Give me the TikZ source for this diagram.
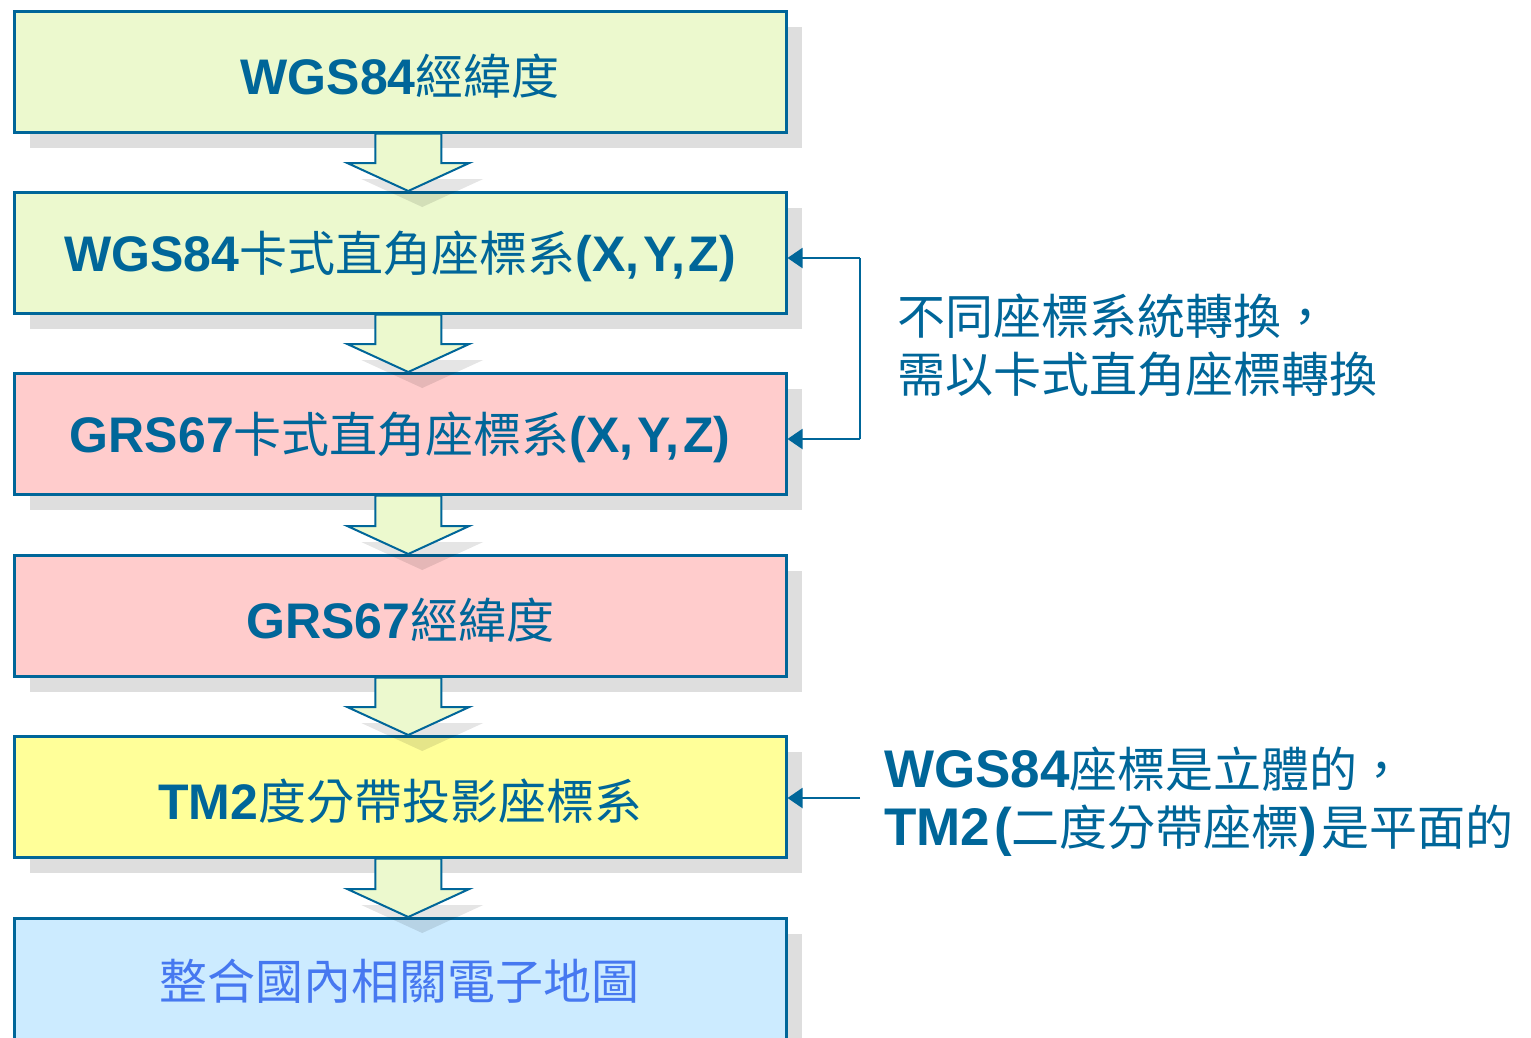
\documentclass[tikz,border=0pt]{standalone}
\usepackage{fontspec}
\setmainfont{Liberation Sans}
\newfontfamily\cjk{Noto Sans CJK TC}
\usetikzlibrary{arrows.meta}
\definecolor{dblue}{RGB}{0,102,153}
\definecolor{lblue}{RGB}{70,120,240}
\definecolor{fgreen}{RGB}{236,249,206}
\definecolor{fpink}{RGB}{255,204,204}
\definecolor{fyellow}{RGB}{255,255,153}
\definecolor{fsky}{RGB}{204,235,255}
\definecolor{shade}{RGB}{222,222,222}
\newcommand\lat[1]{{\fontsize{50}{58}\selectfont\rmfamily\bfseries #1}}
\newcommand\latb[1]{{\fontsize{53}{58}\selectfont\rmfamily\bfseries #1}}
\newcommand\xyz{\lat{(X,\kern4pt Y,\kern4pt Z)}}
\newcommand\lowered[1]{\raisebox{-4pt}[\height][\depth]{#1}}
\begin{document}
\begin{tikzpicture}[x=1pt,y=-1pt,
  box/.style={draw=dblue, line width=2.5pt, minimum width=772pt, minimum height=121pt,
    anchor=north west, inner sep=0pt, text=dblue,
    font=\fontsize{48}{58}\selectfont\cjk},
  shadowfill/.style={fill=shade},
  blockarrow/.style={draw=dblue, line width=2pt, fill=fgreen, line join=miter},
  arrowshadow/.style={fill=black, opacity=0.10},
  conn/.style={draw=dblue, line width=2pt},
  tip/.style={-{Triangle[length=15pt,width=20pt]}},
  note/.style={anchor=west, align=left, text=dblue, inner sep=0pt,
    font=\fontsize{48}{58}\selectfont\cjk}
]
\useasboundingbox (0,0) rectangle (1531,1037);
\fill[white] (0,0) rectangle (1531,1037);

% box positions
\coordinate (p1) at (13,10);
\coordinate (p2) at (13,191);
\coordinate (p3) at (13,372);
\coordinate (p4) at (13,554);
\coordinate (p5) at (13,735);
\coordinate (p6) at (13,917);

% shadows of boxes
\foreach \p in {p1,p2,p3,p4,p5,p6}{
  \fill[shadowfill] ([shift={(17,17)}]\p) rectangle ++(772,121);
}

\node[box, fill=fgreen] (b1) at (p1) {\lowered{\lat{WGS84}經緯度}};
\node[box, fill=fgreen] (b2) at (p2) {\lowered{\lat{WGS84}卡式直角座標系\xyz}};
\node[box, fill=fpink] (b3) at (p3) {\lowered{\lat{GRS67}卡式直角座標系\xyz}};
\node[box, fill=fpink] (b4) at (p4) {\lowered{\lat{GRS67}經緯度}};
\node[box, fill=fyellow] (b5) at (p5) {\lowered{\lat{TM2}度分帶投影座標系}};
\node[box, fill=fsky, minimum height=135pt, text=lblue] (b6) at (p6) {};
\node[text=lblue, font=\fontsize{48}{58}\selectfont\cjk, inner sep=0pt] (t6) at (399,981) {整合國內相關電子地圖};

% block arrows between boxes
\foreach \a/\b in {b1/b2,b2/b3,b3/b4,b4/b5,b5/b6}{
  \path (\a.south) ++(8,0) coordinate (s) (\b.north) ++(8,0) coordinate (e);
  \fill[arrowshadow] ([shift={(14,16)}]e) -- ++(-61,-28) -- ++(122,0) -- cycle;
  \filldraw[blockarrow] ([xshift=-33pt]s) -- ([xshift=33pt]s) -- ([shift={(33,-28)}]e)
    -- ([shift={(61,-28)}]e) -- (e) -- ([shift={(-61,-28)}]e) -- ([shift={(-33,-28)}]e) -- cycle;
}

% feedback connectors
\coordinate (k1) at (860,258);
\coordinate (k2) at (860,439);
\coordinate (k3) at (860,798);
\draw[conn] (k1) -- (k2);
\draw[conn, tip] (k1) -- (b2.east |- k1);
\draw[conn, tip] (k2) -- (b3.east |- k2);
\draw[conn, tip] (k3) -- (b5.east |- k3);

% notes
\node[note] (n1) at (897,345) {不同座標系統轉換，\\需以卡式直角座標轉換};
\node[note] (n2) at (884,802) {\latb{WGS84}座標是立體的，\\\latb{TM2\kern4pt(}二度分帶座標\latb{)\kern4pt}是平面的};
\end{tikzpicture}
\end{document}
